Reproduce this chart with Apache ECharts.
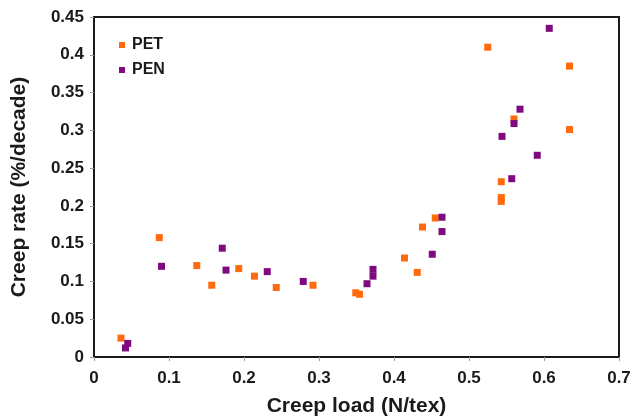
<!DOCTYPE html>
<html><head><meta charset="utf-8">
<script src="https://cdn.jsdelivr.net/npm/echarts@6/dist/echarts.min.js"></script>
<style>html,body{margin:0;padding:0;background:#fff}#c{width:632px;height:420px}</style>
</head><body><div id="c"></div>
<script>
const seriesNames = ['PET', 'PEN'];
const petLoad = [0.036, 0.087, 0.137, 0.157, 0.193, 0.214, 0.243, 0.292, 0.349, 0.354, 0.414, 0.431, 0.438, 0.455, 0.525, 0.634, 0.560, 0.634, 0.543, 0.543, 0.543];
const petRate = [0.025, 0.158, 0.121, 0.095, 0.117, 0.107, 0.092, 0.095, 0.085, 0.083, 0.131, 0.112, 0.172, 0.184, 0.410, 0.385, 0.315, 0.301, 0.232, 0.211, 0.206];
const penLoad = [0.042, 0.045, 0.090, 0.171, 0.176, 0.231, 0.279, 0.364, 0.372, 0.372, 0.451, 0.464, 0.464, 0.607, 0.568, 0.560, 0.544, 0.591, 0.557];
const penRate = [0.012, 0.018, 0.120, 0.144, 0.115, 0.113, 0.100, 0.097, 0.107, 0.116, 0.136, 0.185, 0.166, 0.435, 0.328, 0.309, 0.292, 0.267, 0.236];
const xTicks = [0, 0.1, 0.2, 0.3, 0.4, 0.5, 0.6, 0.7];
const yTicks = [0, 0.05, 0.1, 0.15, 0.2, 0.25, 0.3, 0.35, 0.4, 0.45];

const zip = (a, b) => a.map((v, i) => [v, b[i]]);
const chart = echarts.init(document.getElementById('c'));
const font = 'Liberation Sans, Arial, sans-serif';
const ink = '#1a1a1a';
chart.setOption({
  animation: false,
  grid: { left: 94, right: 13, top: 17, bottom: 63, show: true, borderColor: ink, borderWidth: 2,
          containLabel: false, outerBoundsMode: 'none' },
  legend: {
    orient: 'vertical', left: 114, top: 32, itemWidth: 6, itemHeight: 6, itemGap: 9, icon: 'rect',
    textStyle: { fontFamily: font, fontSize: 16, fontWeight: 'bold', color: ink, padding: [0, 0, 0, 2] },
    data: seriesNames
  },
  xAxis: {
    type: 'value', min: 0, max: 0.7, interval: 0.1,
    name: 'Creep load (N/tex)', nameLocation: 'middle', nameGap: 39,
    nameTextStyle: { fontFamily: font, fontSize: 21, fontWeight: 'bold', color: ink },
    axisLine: { show: true, lineStyle: { color: ink, width: 2 } },
    axisTick: { show: true, length: 4, lineStyle: { color: '#999' } },
    splitLine: { show: false },
    axisLabel: { fontFamily: font, fontSize: 17, fontWeight: 'bold', color: ink, margin: 13,
      formatter: v => { const t = xTicks.find(k => Math.abs(k - v) < 1e-9); return t === undefined ? '' : String(t); } }
  },
  yAxis: {
    type: 'value', min: 0, max: 0.45, interval: 0.05,
    name: 'Creep rate (%/decade)', nameLocation: 'middle', nameGap: 64,
    nameTextStyle: { fontFamily: font, fontSize: 21, fontWeight: 'bold', color: ink },
    axisLine: { show: true, lineStyle: { color: ink, width: 2 } },
    axisTick: { show: true, length: 4, lineStyle: { color: '#999' } },
    splitLine: { show: false },
    axisLabel: { fontFamily: font, fontSize: 17, fontWeight: 'bold', color: ink, margin: 10,
      formatter: v => { const t = yTicks.find(k => Math.abs(k - v) < 1e-9); return t === undefined ? '' : String(t); } }
  },
  series: [
    { name: 'PET', type: 'scatter', symbol: 'rect', symbolSize: 7, itemStyle: { color: '#ff6a0d', opacity: 1 }, data: zip(petLoad, petRate) },
    { name: 'PEN', type: 'scatter', symbol: 'rect', symbolSize: 7, itemStyle: { color: '#7f0a80', opacity: 1 }, data: zip(penLoad, penRate) }
  ]
});
</script></body></html>
